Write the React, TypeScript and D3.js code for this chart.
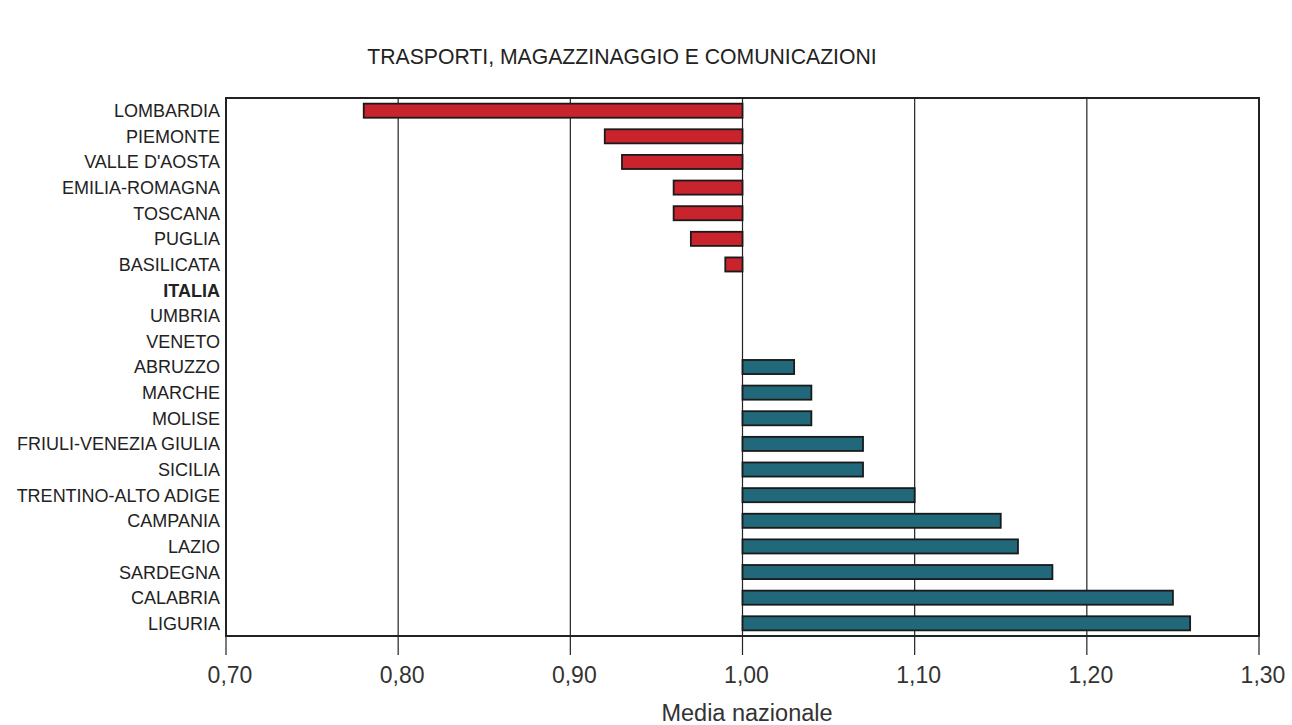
import React, { useEffect, useRef } from "react";
import * as d3 from "d3";

// Regions, top to bottom, and their index vs. the national mean (1,00)
const regions = [
  "LOMBARDIA",
  "PIEMONTE",
  "VALLE D'AOSTA",
  "EMILIA-ROMAGNA",
  "TOSCANA",
  "PUGLIA",
  "BASILICATA",
  "ITALIA",
  "UMBRIA",
  "VENETO",
  "ABRUZZO",
  "MARCHE",
  "MOLISE",
  "FRIULI-VENEZIA GIULIA",
  "SICILIA",
  "TRENTINO-ALTO ADIGE",
  "CAMPANIA",
  "LAZIO",
  "SARDEGNA",
  "CALABRIA",
  "LIGURIA",
];
const values = [
  0.78, 0.92, 0.93, 0.96, 0.96, 0.97, 0.99, 1.0, 1.0, 1.0, 1.03, 1.04, 1.04,
  1.07, 1.07, 1.1, 1.15, 1.16, 1.18, 1.25, 1.26,
];
const xTicks = [0.7, 0.8, 0.9, 1.0, 1.1, 1.2, 1.3];

const title = "TRASPORTI, MAGAZZINAGGIO E COMUNICAZIONI";
const xTitle = "Media nazionale";

const App = () => {
  const ref = useRef<SVGSVGElement>(null);

  useEffect(() => {
    const width = 1292;
    const height = 725;
    const m = { left: 226, right: 33, top: 98, bottom: 89 };
    const font = "'Liberation Sans', Arial, sans-serif";

    const svg = d3.select(ref.current);
    svg.selectAll("*").remove();
    svg.append("rect").attr("width", width).attr("height", height).attr("fill", "#fff");

    const x = d3.scaleLinear().domain([0.7, 1.3]).range([m.left, width - m.right]);
    const y = d3
      .scaleBand<string>()
      .domain(regions)
      .range([m.top, height - m.bottom])
      .paddingInner(0.45)
      .paddingOuter(0.22);

    // vertical grid lines, extended below the frame as ticks
    svg
      .append("g")
      .selectAll("line")
      .data(xTicks)
      .join("line")
      .attr("x1", (d) => x(d))
      .attr("x2", (d) => x(d))
      .attr("y1", m.top)
      .attr("y2", height - m.bottom + 19)
      .attr("stroke", "#222")
      .attr("stroke-width", 1.2);

    // bars, drawn from 1,00
    svg
      .append("g")
      .selectAll("rect")
      .data(regions.map((r, i) => ({ name: r, value: values[i] })))
      .join("rect")
      .filter((d) => d.value !== 1)
      .attr("x", (d) => x(Math.min(d.value, 1)))
      .attr("width", (d) => Math.abs(x(d.value) - x(1)))
      .attr("y", (d) => y(d.name)!)
      .attr("height", y.bandwidth())
      .attr("fill", (d) => (d.value < 1 ? "#c9232e" : "#20687a"))
      .attr("stroke", "#1a1a1a")
      .attr("stroke-width", 1.8);

    // frame
    svg
      .append("rect")
      .attr("x", m.left)
      .attr("y", m.top)
      .attr("width", width - m.left - m.right)
      .attr("height", height - m.top - m.bottom)
      .attr("fill", "none")
      .attr("stroke", "#222")
      .attr("stroke-width", 2);

    // category labels
    svg
      .append("g")
      .selectAll("text")
      .data(regions)
      .join("text")
      .attr("x", m.left - 6)
      .attr("y", (d) => y(d)! + y.bandwidth() / 2)
      .attr("dy", "0.36em")
      .attr("text-anchor", "end")
      .attr("font-family", font)
      .attr("font-size", 18)
      .attr("font-weight", (d) => (d === "ITALIA" ? "bold" : "normal"))
      .attr("fill", "#222")
      .text((d) => d);

    // tick labels
    const fmt = (v: number) => v.toFixed(2).replace(".", ",");
    svg
      .append("g")
      .selectAll("text")
      .data(xTicks)
      .join("text")
      .attr("x", (d) => x(d) + 4)
      .attr("y", 683)
      .attr("text-anchor", "middle")
      .attr("font-family", font)
      .attr("font-size", 23)
      .attr("fill", "#333")
      .text(fmt);

    svg
      .append("text")
      .attr("x", 747)
      .attr("y", 721)
      .attr("text-anchor", "middle")
      .attr("font-family", font)
      .attr("font-size", 23.5)
      .attr("fill", "#333")
      .text(xTitle);

    svg
      .append("text")
      .attr("x", 622)
      .attr("y", 64)
      .attr("text-anchor", "middle")
      .attr("font-family", font)
      .attr("font-size", 21.2)
      .attr("fill", "#222")
      .text(title);
  }, []);

  return (
    <svg
      ref={ref}
      width={1292}
      height={725}
      style={{ position: "absolute", left: 0, top: 0, display: "block" }}
    />
  );
};

export default App;
